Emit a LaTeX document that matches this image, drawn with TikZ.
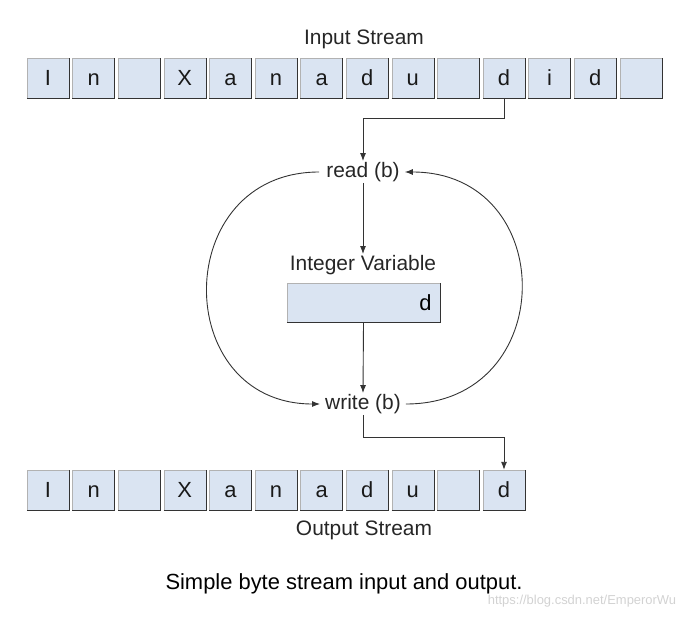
\documentclass[tikz,border=0pt]{standalone}
\usepackage{fontspec}
\setmainfont{Liberation Sans}
\usetikzlibrary{arrows.meta}
\begin{document}
\begin{tikzpicture}[x=1bp,y=-1bp,
  cell/.style={draw=gray!60,fill={rgb,255:red,218;green,228;blue,242},minimum width=42bp,minimum height=40bp,inner sep=0pt,font=\fontsize{22}{22}\selectfont,text=black!90,text height=16pt,text depth=0pt},
  lab/.style={font=\fontsize{21}{22}\selectfont,inner sep=1pt,text=black!85},
  arr/.style={-{Latex[length=8pt,width=6pt]},line width=0.9pt,black!80}]
\useasboundingbox (0,0) rectangle (695,620);
\def\pitch{45.6}
\foreach \t [count=\i from 0] in {I,n,{},X,a,n,a,d,u,{},d,i,d,{}} {
  \node[cell] (t\i) at ({48+\pitch*\i},78) {\t};
  \draw[gray!40!black,line width=1pt] (t\i.south west)--(t\i.south east)--(t\i.north east);
}
\foreach \t [count=\i from 0] in {I,n,{},X,a,n,a,d,u,{},d} {
  \node[cell] (o\i) at ({48+\pitch*\i},490) {\t};
  \draw[gray!40!black,line width=1pt] (o\i.south west)--(o\i.south east)--(o\i.north east);
}
\node[lab] (in) at (364,39) {Input Stream};
\node[lab] (out) at (364,530) {Output Stream};
\node[lab] (read) at (363,172) {read (b)};
\node[lab] (write) at (363,404) {write (b)};
\node[lab] (iv) at (363,265) {Integer Variable};
\node[draw=gray!60,fill={rgb,255:red,218;green,228;blue,242},minimum width=153bp,minimum height=39bp,inner sep=0pt] (var) at (363.5,303) {};
\draw[gray!40!black,line width=1pt] (var.south west)--(var.south east)--(var.north east);
\node[font=\fontsize{22}{22}\selectfont,anchor=east] (vd) at ([xshift=-5bp]var.east) {d};
\coordinate (c1) at (t10.south |- 0,118);
\coordinate (c2) at (read.north |- 0,118);
\draw[arr] (t10.south) -- (c1) -- (c2) -- (read.north);
\draw[arr] (read.south) -- (iv.north);
\draw[arr] (var.south) -- (write.north);
\coordinate (c3) at (write.south |- 0,437);
\coordinate (c4) at (o10.north |- 0,437);
\draw[arr] (write.south) -- (c3) -- (c4) -- (o10.north);
\draw[arr] ([xshift=-6bp]read.west) .. controls (170,172) and (170,404) .. ([xshift=-4bp]write.west);
\draw[arr] ([xshift=4bp]write.east) .. controls (560,404) and (560,172) .. ([xshift=4bp]read.east);
\node[font=\fontsize{22}{24}\selectfont] (cap) at (344,584) {Simple byte stream input and output.};
\node[font=\fontsize{13}{14}\selectfont,text=gray!35] (wm) at (582,601) {https://blog.csdn.net/EmperorWu};
\end{tikzpicture}
\end{document}
